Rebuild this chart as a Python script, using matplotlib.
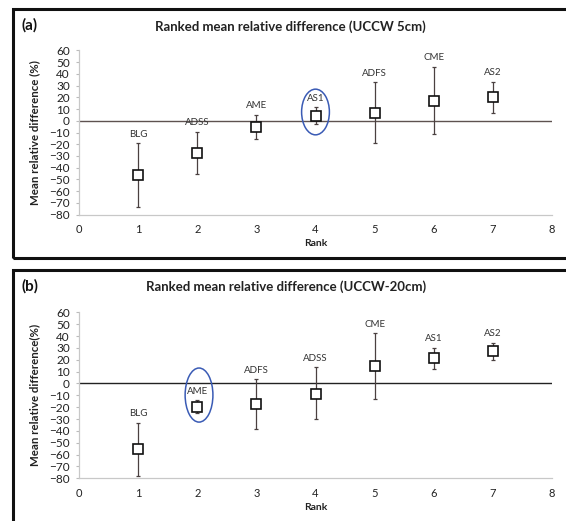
import numpy as np
import matplotlib
matplotlib.use("Agg")
import matplotlib.pyplot as plt
from matplotlib.patches import Rectangle, Ellipse

plt.rcParams['font.family'] = ['Lato', 'DejaVu Sans']

## data
ranks = [1, 2, 3, 4, 5, 6, 7]

# (a) UCCW 5cm
names_a = ['BLG', 'ADSS', 'AME', 'AS1', 'ADFS', 'CME', 'AS2']
mean_a = [-46.5, -27.7, -5.5, 4.5, 7, 17, 20]
low_a = [-73.5, -45.6, -15.7, -3, -19, -11, 7]
up_a = [-19, -9.2, 5, 11.5, 33, 46, 33.5]

# (b) UCCW-20cm
names_b = ['BLG', 'AME', 'ADFS', 'ADSS', 'CME', 'AS1', 'AS2']
mean_b = [-55.3, -19.7, -17, -8.5, 15.1, 21.8, 27.7]
low_b = [-77.7, -24.7, -38, -30.4, -13.4, 12.5, 19.7]
up_b = [-33, -14, 3.7, 13.8, 42.3, 30.3, 34.5]

yticks = list(range(-80, 61, 10))
xticks = list(range(0, 9))

W, H = 566, 521
fig = plt.figure(figsize=(W / 100, H / 100), dpi=100)

def px(x0, y0, x1, y1):
    # pixel box -> figure fraction [left, bottom, width, height]
    return [x0 / W, 1 - y1 / H, (x1 - x0) / W, (y1 - y0) / H]

def panel(box, names, mean, low, up, title, tag, title_xy, tag_xy, ylab, circle, zcol):
    ax = fig.add_axes(box)
    mean = np.array(mean)
    yerr = [mean - np.array(low), np.array(up) - mean]
    ax.errorbar(ranks, mean, yerr=yerr, fmt='none', ecolor='#4a4040',
                elinewidth=0.9, capsize=1.6, capthick=0.9, zorder=3)
    ax.plot(ranks, mean, 's', ms=6.5, mfc='white', mec='#111111', mew=1.2, zorder=4)
    for r, n, u in zip(ranks, names, up):
        ax.annotate(n, (r, u), xytext=(0, 6.5), textcoords='offset points',
                    ha='center', va='center', fontsize=7, color='#333333')
    ax.axhline(0, color=zcol, lw=1.0, zorder=2)
    cx, cy, cw, ch = circle
    ax.add_patch(Ellipse((cx, cy), cw, ch, fill=False, ec='#3a5bb5', lw=1.1, zorder=5))
    ax.set_xlim(0, 8)
    ax.set_ylim(-80, 60)
    ax.set_xticks(xticks)
    ax.set_yticks(yticks)
    ax.tick_params(axis='y', length=2.5, width=0.8, color='#bbbbbb', pad=4,
                   labelsize=8.5, labelcolor='#222222')
    ax.tick_params(axis='x', length=0, pad=7, labelsize=8, labelcolor='#222222')
    for s in ['top', 'right']:
        ax.spines[s].set_visible(False)
    for s in ['left', 'bottom']:
        ax.spines[s].set_color('#c8c8c8')
        ax.spines[s].set_linewidth(0.9)
    ax.set_xlabel('Rank', fontsize=7.5, fontweight='bold', color='#222222', labelpad=3)
    ax.set_ylabel(ylab, fontsize=8.3, fontweight='bold', color='#222222')
    ax.yaxis.set_label_coords(-0.083, 0.5)
    fig.text(title_xy[0] / W, 1 - title_xy[1] / H, title, ha='center', va='center',
             fontsize=9.5, fontweight='bold', color='#222222')
    fig.text(tag_xy[0] / W, 1 - tag_xy[1] / H, tag, ha='left', va='center',
             fontsize=11, fontweight='bold', color='#111111')
    return ax

# frames round each panel
fig.add_artist(Rectangle((13 / W, 1 - 258 / H), 1.0, (258 - 9) / H, fill=False,
                         ec='#111111', lw=2.2, transform=fig.transFigure))
fig.add_artist(Rectangle((13 / W, -0.05), 1.0, (1 - 270 / H) + 0.05, fill=False,
                         ec='#111111', lw=2.2, transform=fig.transFigure))

panel(px(79, 50.5, 552, 214.5), names_a, mean_a, low_a, up_a,
      'Ranked mean relative difference (UCCW 5cm)', '(a)', (290, 27), (21, 25),
      'Mean relative difference (%)', (4, 7.5, 0.47, 39), '#5e5250')
panel(px(79, 312.3, 552, 478.3), names_b, mean_b, low_b, up_b,
      'Ranked mean relative difference (UCCW-20cm)', '(b)', (286, 287), (22, 286),
      'Mean relative difference(%)', (2.03, -9.8, 0.47, 45.6), '#222222')

fig.savefig('out.png', dpi=100)
